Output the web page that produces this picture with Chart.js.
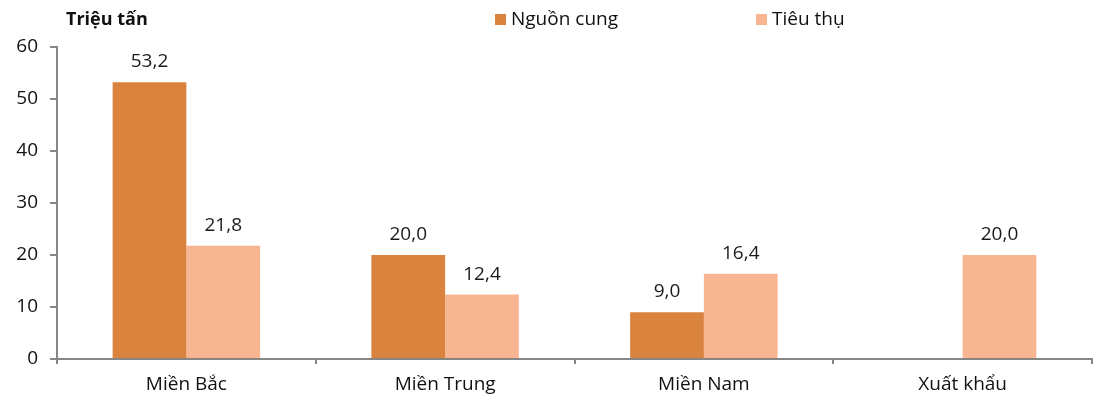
<!DOCTYPE html>
<html>
<head>
<meta charset="utf-8">
<script src="https://cdn.jsdelivr.net/npm/chart.js@4/dist/chart.umd.min.js"></script>
<style>
  html, body { margin: 0; padding: 0; background: #ffffff; }
  #wrap { width: 1095px; height: 398px; position: relative; }
</style>
</head>
<body>
<div id="wrap"><canvas id="c" width="1095" height="398"></canvas></div>
<script>
// Regions and values (million tonnes)
const categories = ['Miền Bắc', 'Miền Trung', 'Miền Nam', 'Xuất khẩu'];
const supply = [53.2, 20.0, 9.0, null];
const consumption = [21.8, 12.4, 16.4, 20.0];
const seriesNames = ['Nguồn cung', 'Tiêu thụ'];
const yTicks = [0, 10, 20, 30, 40, 50, 60];
const unitLabel = 'Triệu tấn';

const FONT = '"Open Sans", "Noto Sans", sans-serif';
const AXIS = '#868686';
const COLORS = ['#DA833F', '#F8B592'];

const fmt = v => v.toFixed(1).replace('.', ',');

// Value labels above each bar
const valueLabels = {
  id: 'valueLabels',
  afterDatasetsDraw(chart) {
    const ctx = chart.ctx;
    ctx.save();
    ctx.font = '19px ' + FONT;
    ctx.fillStyle = '#1a1a1a';
    ctx.textAlign = 'center';
    ctx.textBaseline = 'alphabetic';
    chart.data.datasets.forEach((ds, i) => {
      const meta = chart.getDatasetMeta(i);
      meta.data.forEach((bar, j) => {
        const v = ds.data[j];
        if (v === null || v === undefined) return;
        ctx.fillText(fmt(v), bar.x, bar.y - 15);
      });
    });
    ctx.restore();
  }
};

// Unit caption and legend row across the top
const header = {
  id: 'header',
  afterDraw(chart) {
    const ctx = chart.ctx;
    ctx.save();
    ctx.textBaseline = 'middle';
    ctx.textAlign = 'left';
    ctx.fillStyle = '#111111';
    ctx.font = 'bold 18px ' + FONT;
    ctx.fillText(unitLabel, 66, 20);
    const starts = [495, 756];
    ctx.font = '19px ' + FONT;
    chart.data.datasets.forEach((ds, i) => {
      ctx.fillStyle = ds.backgroundColor;
      ctx.fillRect(starts[i], 14, 11, 11);
      ctx.fillStyle = '#111111';
      ctx.fillText(ds.label, starts[i] + 16, 20);
    });
    ctx.restore();
  }
};

new Chart(document.getElementById('c'), {
  type: 'bar',
  data: {
    labels: categories,
    datasets: [
      { label: seriesNames[0], data: supply, backgroundColor: COLORS[0] },
      { label: seriesNames[1], data: consumption, backgroundColor: COLORS[1] }
    ]
  },
  options: {
    responsive: false,
    animation: false,
    layout: { padding: { top: 47, right: 3, left: 0, bottom: 0 } },
    datasets: { bar: { categoryPercentage: 0.57, barPercentage: 1.0 } },
    plugins: { legend: { display: false }, tooltip: { enabled: false } },
    scales: {
      x: {
        grid: { offset: true, drawOnChartArea: false, drawTicks: true, tickLength: 5, color: AXIS, lineWidth: 2 },
        border: { color: AXIS, width: 2 },
        ticks: { color: '#111111', font: { family: FONT, size: 19 }, padding: 9 },
        afterFit(scale) { scale.height = 39; }
      },
      y: {
        min: 0, max: 60,
        afterBuildTicks(scale) { scale.ticks = yTicks.map(v => ({ value: v })); },
        grid: { drawOnChartArea: false, drawTicks: true, tickLength: 7, color: AXIS, lineWidth: 2 },
        border: { color: AXIS, width: 2 },
        ticks: { color: '#111111', font: { family: FONT, size: 19 }, padding: 12 },
        afterFit(scale) { scale.width = 57; }
      }
    }
  },
  plugins: [valueLabels, header]
});
</script>
</body>
</html>
